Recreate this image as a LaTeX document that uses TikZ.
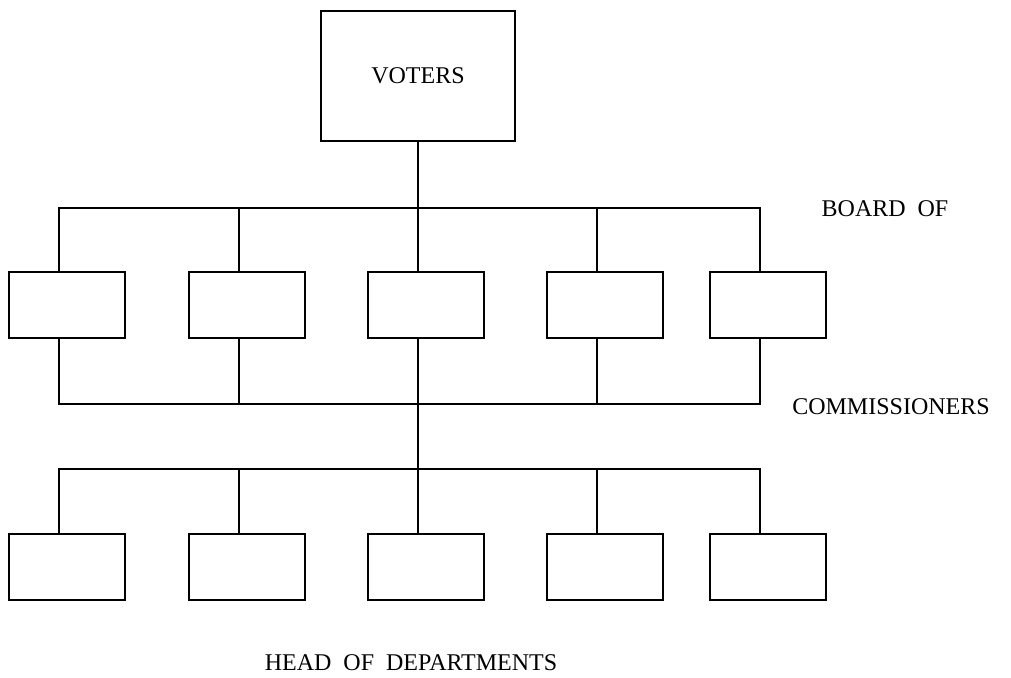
\documentclass[tikz,border=0pt]{standalone}
\usepackage{fontspec}
\setmainfont{Liberation Serif}
\tikzset{
  unit/.style={draw, line width=1.7pt, minimum width=116pt, minimum height=66pt, inner sep=0pt},
  tag/.style={font=\fontsize{24}{28}\selectfont},
}
\begin{document}
\begin{tikzpicture}[x=1pt, y=1pt, line width=1.7pt]
    \useasboundingbox (0,0) rectangle (1011,677);
    \node [unit, minimum width=194pt, minimum height=130pt, tag] (voters) at (418,601) {VOTERS};
    % board of commissioners
    \node [unit] (b1) at (67,372)                      {};
    \node [unit] (b2) at ([shift={(180,0)}] b1)        {};
    \node [unit] (b3) at ([shift={(179,0)}] b2)        {};
    \node [unit] (b4) at ([shift={(179,0)}] b3)        {};
    \node [unit] (b5) at ([shift={(163,0)}] b4)        {};
    % heads of departments
    \node [unit] (h1) at ([shift={(0,-262)}] b1)       {};
    \node [unit] (h2) at ([shift={(0,-262)}] b2)       {};
    \node [unit] (h3) at ([shift={(0,-262)}] b3)       {};
    \node [unit] (h4) at ([shift={(0,-262)}] b4)       {};
    \node [unit] (h5) at ([shift={(0,-262)}] b5)       {};
    \node [tag] (board) at ([shift={(117,96)}]  b5)    {BOARD\ \ OF};
    \node [tag] (comm)  at ([shift={(123,-102)}] b5)   {COMMISSIONERS};
    \node [tag] (heads) at (411,14)                    {HEAD\ \ OF\ \ DEPARTMENTS};
    \coordinate (top) at ([shift={(0,-66)}] voters.south);
    \coordinate (mid) at (418,273);
    \coordinate (low) at (418,208);
    \draw (voters) -- (top);
    \draw ([xshift=-8pt]b1.north) |- (top) -| ([xshift=-8pt]b5.north);
    \draw ([xshift=-8pt]b2.north) |- (top);
    \draw ([xshift=-8pt]b3.north) -- (top);
    \draw ([xshift=-8pt]b4.north) |- (top);
    \draw ([xshift=-8pt]b1.south) |- (mid) -| ([xshift=-8pt]b5.south);
    \draw ([xshift=-8pt]b2.south) |- (mid);
    \draw ([xshift=-8pt]b3.south) -- (mid) -- (low);
    \draw ([xshift=-8pt]b4.south) |- (mid);
    \draw ([xshift=-8pt]h1.north) |- (low) -| ([xshift=-8pt]h5.north);
    \draw ([xshift=-8pt]h2.north) |- (low);
    \draw ([xshift=-8pt]h3.north) -- (low);
    \draw ([xshift=-8pt]h4.north) |- (low);
  \end{tikzpicture}
\end{document}
